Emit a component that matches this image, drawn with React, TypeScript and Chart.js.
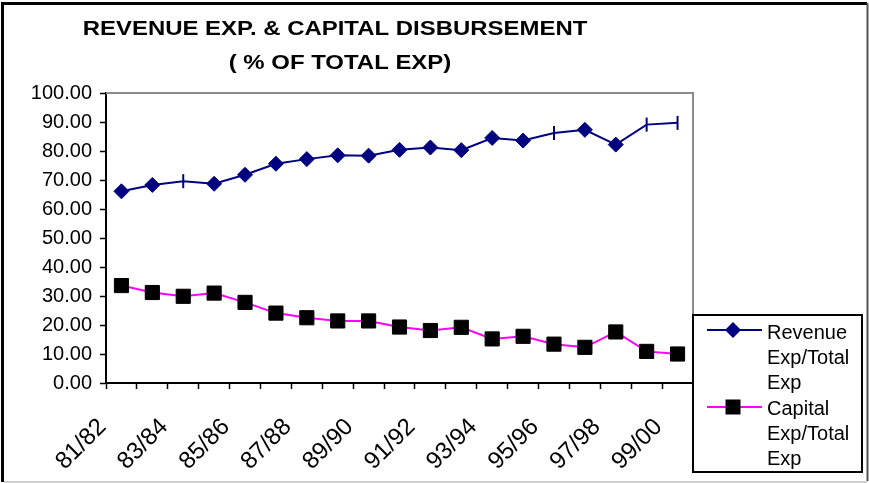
import React, { useEffect, useRef } from "react";
import { Chart, registerables } from "chart.js";

Chart.register(...registerables);

// ---- data ----
const categories = [
  "81/82", "82/83", "83/84", "84/85", "85/86", "86/87", "87/88", "88/89", "89/90", "90/91",
  "91/92", "92/93", "93/94", "94/95", "95/96", "96/97", "97/98", "98/99", "99/00",
];
const revenueShare = [66.1, 68.3, 69.6, 68.7, 71.8, 75.6, 77.2, 78.5, 78.4, 80.4, 81.2, 80.3, 84.5, 83.6, 86.2, 87.3, 82.2, 89.1, 89.7];
const capitalShare = [33.6, 31.2, 29.9, 31.0, 27.8, 24.1, 22.5, 21.4, 21.4, 19.3, 18.1, 19.2, 15.2, 16.1, 13.4, 12.3, 17.6, 10.9, 10.0];
const revenueDashPoints = [2, 14, 17, 18];
const seriesNames = ["Revenue Exp/Total Exp", "Capital Exp/Total Exp"];
const legendLines = [
  ["Revenue", "Exp/Total", "Exp"],
  ["Capital", "Exp/Total", "Exp"],
];
const titleLines = ["REVENUE EXP. & CAPITAL DISBURSEMENT", "( % OF TOTAL EXP)"];
const yMin = 0;
const yMax = 100;
const yStep = 10;

const FONT = '"Liberation Sans", Arial, sans-serif';
const NAVY = "#000080";
const MAGENTA = "#FF00FF";

const decorPlugin = {
  id: "decor",
  beforeDraw(chart: any) {
    const { ctx, width, height } = chart;
    ctx.save();
    ctx.fillStyle = "#ffffff";
    ctx.fillRect(0, 0, width, height);
    ctx.restore();
  },
  afterDraw(chart: any) {
    const { ctx, width, height } = chart;
    const ca = chart.chartArea;
    ctx.save();

    // grey plot-area frame (top and right)
    ctx.strokeStyle = "#8c8c8c";
    ctx.lineWidth = 2;
    ctx.beginPath();
    ctx.moveTo(ca.left, ca.top);
    ctx.lineTo(ca.right, ca.top);
    ctx.lineTo(ca.right, ca.bottom);
    ctx.stroke();

    // title
    ctx.fillStyle = "#000";
    ctx.font = `bold 21px ${FONT}`;
    ctx.textAlign = "center";
    ctx.textBaseline = "alphabetic";
    const centers = [335, 340];
    const baselines = [35, 69];
    titleLines.forEach((t, i) => {
      ctx.save();
      ctx.translate(centers[i], baselines[i]);
      ctx.scale(1.14, 1);
      ctx.fillText(t, 0, 0);
      ctx.restore();
    });

    // legend
    const lx = 693, ly = 315, lw = 169, lh = 157;
    ctx.fillStyle = "#fff";
    ctx.fillRect(lx, ly, lw, lh);
    ctx.strokeStyle = "#000";
    ctx.lineWidth = 2;
    ctx.strokeRect(lx, ly, lw, lh);

    const sampleY = [330, 407];
    const textBase = [[339, 364, 389], [415, 440, 465]];
    const cols = [NAVY, MAGENTA];
    for (let s = 0; s < 2; s++) {
      ctx.strokeStyle = cols[s];
      ctx.lineWidth = 2;
      ctx.beginPath();
      ctx.moveTo(707, sampleY[s]);
      ctx.lineTo(762, sampleY[s]);
      ctx.stroke();
      if (s === 0) {
        ctx.fillStyle = NAVY;
        ctx.beginPath();
        ctx.moveTo(733, sampleY[s] - 8);
        ctx.lineTo(741, sampleY[s]);
        ctx.lineTo(733, sampleY[s] + 8);
        ctx.lineTo(725, sampleY[s]);
        ctx.closePath();
        ctx.fill();
      } else {
        ctx.fillStyle = "#000";
        ctx.fillRect(725.5, sampleY[s] - 7.5, 15, 15);
      }
      ctx.fillStyle = "#000";
      ctx.font = `20px ${FONT}`;
      ctx.textAlign = "left";
      legendLines[s].forEach((t, i) => ctx.fillText(t, 767, textBase[s][i]));
    }

    // outer frame
    ctx.strokeStyle = "#000";
    ctx.lineWidth = 3;
    ctx.beginPath();
    ctx.moveTo(2.5, height - 1);
    ctx.lineTo(2.5, 3.5);
    ctx.lineTo(width - 2, 3.5);
    ctx.stroke();
    ctx.strokeStyle = "#555";
    ctx.lineWidth = 2;
    ctx.beginPath();
    ctx.moveTo(width - 1.5, 3);
    ctx.lineTo(width - 1.5, height - 2);
    ctx.stroke();
    ctx.strokeStyle = "#c0c0c0";
    ctx.lineWidth = 1.5;
    ctx.beginPath();
    ctx.moveTo(4, height - 1);
    ctx.lineTo(width - 2, height - 1);
    ctx.stroke();

    ctx.restore();
  },
};

export default function App() {
  const ref = useRef<HTMLCanvasElement | null>(null);

  useEffect(() => {
    if (!ref.current) return;
    const isDash = (i: number) => revenueDashPoints.includes(i);
    const chart = new Chart(ref.current, {
      type: "line",
      data: {
        labels: categories,
        datasets: [
          {
            label: seriesNames[0],
            data: revenueShare,
            borderColor: NAVY,
            backgroundColor: NAVY,
            borderWidth: 2,
            tension: 0,
            pointStyle: (c: any) => (isDash(c.dataIndex) ? "line" : "rectRot"),
            pointRotation: (c: any) => (isDash(c.dataIndex) ? 90 : 0),
            pointRadius: (c: any) => (isDash(c.dataIndex) ? 7 : 7.5),
            pointBorderWidth: (c: any) => (isDash(c.dataIndex) ? 2 : 1),
            pointBackgroundColor: NAVY,
            pointBorderColor: NAVY,
          },
          {
            label: seriesNames[1],
            data: capitalShare,
            borderColor: MAGENTA,
            backgroundColor: "#000",
            borderWidth: 2,
            tension: 0,
            pointStyle: "rect",
            pointRadius: 10,
            pointBorderWidth: 1,
            pointBackgroundColor: "#000",
            pointBorderColor: "#000",
          },
        ],
      },
      options: {
        animation: false,
        responsive: false,
        events: [],
        layout: { padding: { left: 0, top: 93, right: 176, bottom: 0 } },
        plugins: {
          legend: { display: false },
          title: { display: false },
          tooltip: { enabled: false },
        },
        scales: {
          x: {
            offset: true,
            grid: {
              display: true,
              drawOnChartArea: false,
              drawTicks: true,
              tickLength: 6,
              offset: true,
              tickColor: "#000",
              tickWidth: 1.5,
            },
            border: { display: true, color: "#000", width: 2 },
            ticks: {
              autoSkip: false,
              minRotation: 45,
              maxRotation: 45,
              color: "#000",
              font: { family: FONT, size: 24 },
              padding: 24,
              labelOffset: -19,
              callback: (_v: any, i: number) => (i % 2 === 0 ? categories[i] : ""),
            },
            afterFit: (s: any) => {
              s.height = 100;
            },
          },
          y: {
            min: yMin,
            max: yMax,
            grid: {
              display: true,
              drawOnChartArea: false,
              drawTicks: true,
              tickLength: 6,
              tickColor: "#000",
              tickWidth: 1.5,
            },
            border: { display: true, color: "#000", width: 2 },
            ticks: {
              stepSize: yStep,
              color: "#000",
              padding: 8,
              font: { family: FONT, size: 20 },
              callback: (v: any) => Number(v).toFixed(2),
            },
            afterFit: (s: any) => {
              s.width = 106;
            },
          },
        },
      },
      plugins: [decorPlugin],
    } as any);
    return () => chart.destroy();
  }, []);

  return (
    <div style={{ position: "absolute", left: 0, top: 0, width: 869, height: 483, background: "#fff" }}>
      <canvas ref={ref} width={869} height={483} style={{ width: 869, height: 483, display: "block" }} />
    </div>
  );
}
